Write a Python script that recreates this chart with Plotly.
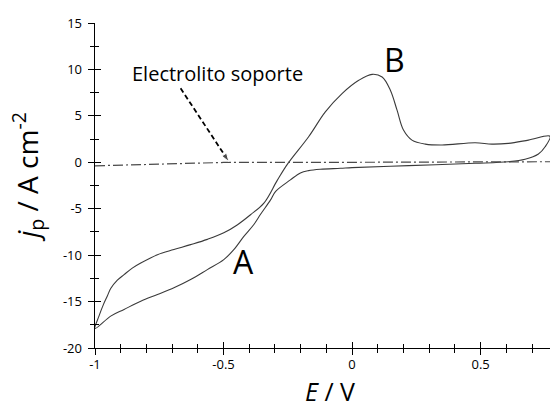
import plotly.graph_objects as go

# ---- data ----
# cyclic voltammogram (closed loop): forward scan then reverse scan
E_forward = [-1.0, -0.985, -0.967, -0.952, -0.939, -0.913, -0.887, -0.855, -0.822, -0.757,
             -0.693, -0.628, -0.563, -0.499, -0.447, -0.395, -0.343, -0.291, -0.25,
             -0.169, -0.104, -0.039, 0.026, 0.078, 0.117, 0.149, 0.175, 0.200, 0.233,
             0.285, 0.350, 0.479, 0.544, 0.608, 0.686, 0.77]
j_forward = [-17.9, -16.6, -15.3, -14.4, -13.6, -12.7, -12.1, -11.4, -10.85, -9.95,
             -9.4, -8.87, -8.3, -7.6, -6.75, -5.65, -4.4, -1.95, -0.15,
             2.75, 5.43, 7.40, 8.83, 9.47, 9.18, 7.76, 5.61, 3.47, 2.39,
             1.96, 1.86, 2.10, 1.96, 2.04, 2.39, 2.8]
E_reverse = [0.77, 0.751, 0.725, 0.673, 0.608, 0.479, 0.220, 0.0, -0.045, -0.123,
             -0.169, -0.201, -0.24, -0.298, -0.317, -0.356, -0.382, -0.421, -0.460,
             -0.499, -0.563, -0.628, -0.693, -0.757, -0.822, -0.887, -0.939, -1.0]
j_reverse = [2.8, 1.67, 0.89, 0.32, 0.06, -0.11, -0.36, -0.58, -0.65, -0.75,
             -0.9, -1.15, -1.9, -3.15, -4.05, -5.6, -6.7, -7.98, -9.41,
             -10.48, -11.56, -12.63, -13.52, -14.24, -14.96, -15.85, -16.57, -17.9]

# supporting electrolyte (dash-dot)
E_support = [-1.0, -0.75, -0.5, 0.0, 0.5, 0.77]
j_support = [-0.38, -0.18, -0.02, 0.0, 0.02, 0.06]

# arrow for the "Electrolito soporte" label (tail -> tip)
arrow_E = [-0.667, -0.479]
arrow_j = [7.97, 0.06]

label_support = "Electrolito soporte"
label_support_pos = (-0.524, 9.6)
label_A = "A"
label_A_pos = (-0.424, -10.7)
label_B = "B"
label_B_pos = (0.164, 11.1)

x_tickvals = [-1, -0.5, 0, 0.5]
x_ticktext = ["-1", "-0.5", "0", "0.5"]
y_tickvals = [-20, -15, -10, -5, 0, 5, 10, 15]
y_ticktext = ["-20", "-15", "-10", "-5", "0", "5", "10", "15"]
x_range = [-1.0, 0.77]
y_range = [-20, 15]

FONT = "Open Sans"
TICKC = "black"

fig = go.Figure()

# CV curve on the main axes (outer halves of the crossing ticks)
fig.add_trace(go.Scatter(
    x=E_forward + E_reverse[1:], y=j_forward + j_reverse[1:],
    mode="lines", line=dict(color="#3a3a3a", width=1.1, shape="spline", smoothing=1.0),
    showlegend=False, hoverinfo="skip"))

# supporting electrolyte on overlay axes 2 (inner halves of the crossing ticks)
fig.add_trace(go.Scatter(
    x=E_support, y=j_support, mode="lines", xaxis="x2", yaxis="y2",
    line=dict(color="#4a4a4a", width=1.2, dash="10px,3px,2px,3px"),
    showlegend=False, hoverinfo="skip"))

# arrow on overlay axes 3 (which carry the tick labels)
fig.add_trace(go.Scatter(
    x=arrow_E, y=arrow_j, mode="lines+markers", xaxis="x3", yaxis="y3",
    line=dict(color="black", width=1.8, dash="5px,3px"),
    marker=dict(symbol="arrow", size=[0, 9], angleref="previous", color="black"),
    showlegend=False, hoverinfo="skip"))

tickfont = dict(family=FONT, size=13, color="black")
common = dict(showgrid=False, zeroline=False)

fig.update_layout(
    width=550, height=410,
    margin=dict(l=95, r=0, t=23, b=62),
    paper_bgcolor="white", plot_bgcolor="white",
    xaxis=dict(range=x_range, **common, showline=True, linecolor="black", linewidth=1,
               tickmode="linear", tick0=0, dtick=0.5, showticklabels=False,
               ticks="outside", ticklen=6, tickcolor=TICKC, tickwidth=1,
               minor=dict(tickmode="linear", tick0=0, dtick=0.1, ticks="outside",
                          ticklen=4, tickcolor=TICKC, tickwidth=1)),
    yaxis=dict(range=y_range, **common, showline=True, linecolor="black", linewidth=1,
               tickmode="linear", tick0=0, dtick=5, showticklabels=False,
               ticks="outside", ticklen=6, tickcolor=TICKC, tickwidth=1,
               minor=dict(tickmode="linear", tick0=0, dtick=2.5, ticks="outside",
                          ticklen=4, tickcolor=TICKC, tickwidth=1)),
    xaxis2=dict(overlaying="x", anchor="y2", side="bottom", range=x_range, **common,
                showline=False, showticklabels=False,
                tickmode="linear", tick0=0, dtick=0.5,
                ticks="inside", ticklen=6, tickcolor=TICKC, tickwidth=1,
                minor=dict(tickmode="linear", tick0=0, dtick=0.1, ticks="inside",
                           ticklen=4, tickcolor=TICKC, tickwidth=1)),
    yaxis2=dict(overlaying="y", anchor="x2", side="left", range=y_range, **common,
                showline=False, showticklabels=False,
                tickmode="linear", tick0=0, dtick=5,
                ticks="inside", ticklen=6, tickcolor=TICKC, tickwidth=1,
                minor=dict(tickmode="linear", tick0=0, dtick=2.5, ticks="inside",
                           ticklen=4, tickcolor=TICKC, tickwidth=1)),
    xaxis3=dict(overlaying="x", anchor="y3", side="bottom", range=x_range, **common,
                showline=False, ticks="", tickmode="array",
                tickvals=x_tickvals, ticktext=x_ticktext,
                tickfont=tickfont, ticklabelstandoff=7),
    yaxis3=dict(overlaying="y", anchor="x3", side="left", range=y_range, **common,
                showline=False, ticks="", tickmode="array",
                tickvals=y_tickvals, ticktext=y_ticktext,
                tickfont=tickfont, ticklabelstandoff=12),
)

annos = [
    dict(x=label_support_pos[0], y=label_support_pos[1], xref="x", yref="y",
         text=label_support, showarrow=False, font=dict(family=FONT, size=20, color="black"),
         xanchor="center", yanchor="middle"),
    dict(x=label_A_pos[0], y=label_A_pos[1], xref="x", yref="y",
         text=label_A, showarrow=False, font=dict(family=FONT, size=32, color="black"),
         xanchor="center", yanchor="middle"),
    dict(x=label_B_pos[0], y=label_B_pos[1], xref="x", yref="y",
         text=label_B, showarrow=False, font=dict(family=FONT, size=32, color="black"),
         xanchor="center", yanchor="middle"),
    # axis titles
    dict(x=0.516, y=-0.1895, xref="paper", yref="paper",
         text="<i>E</i> / V", showarrow=False, font=dict(family=FONT, size=25, color="black"),
         xanchor="center", yanchor="bottom"),
    dict(x=-0.147, y=0.527, xref="paper", yref="paper", textangle=-90,
         text="<i>j</i><sub>p</sub> / A cm<sup>-2</sup>", showarrow=False,
         font=dict(family=FONT, size=28, color="black"),
         xanchor="center", yanchor="middle"),
]
fig.update_layout(annotations=annos)

fig.write_html("out.html")
